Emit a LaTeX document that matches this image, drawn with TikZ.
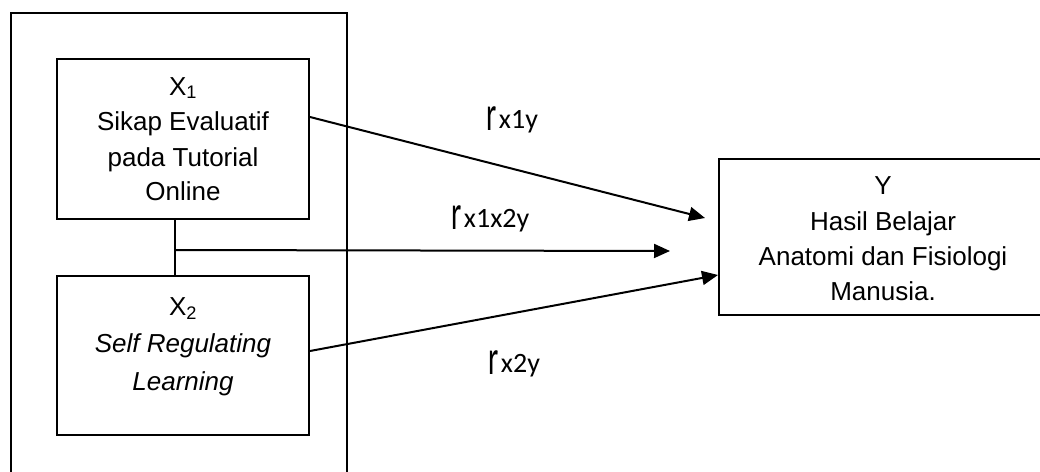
\documentclass[tikz,border=0pt]{standalone}
\usepackage{fontspec}
\setmainfont{Liberation Sans}
\newfontfamily\lblfont{Carlito}
\usetikzlibrary{arrows.meta}
\newcommand\rglyph{\raisebox{-2pt}{\scalebox{1.05}[1.75]{r}}\hspace{2.5pt}}
\begin{document}
\begin{tikzpicture}[x=1pt,y=-1pt,
  box/.style={draw, line width=2pt, inner sep=0pt},
  txt/.style={anchor=base, inner sep=0pt, font=\fontsize{26}{35}\selectfont},
  lbl/.style={anchor=base west, inner sep=0pt, font=\lblfont\fontsize{28}{32}\selectfont},
  conn/.style={line width=2pt},
  arr/.style={conn, -{Triangle[length=16pt,width=14pt]}}]
\clip (0,0) rectangle (1040,471);
\fill[white] (0,0) rectangle (1040,471);
% boxes
\node[box, minimum width=336pt, minimum height=480pt] (outer) at (179,253) {};
\node[box, minimum width=252pt, minimum height=160pt] (x1) at (183,139) {};
\node[box, minimum width=252pt, minimum height=159pt] (x2) at (183,355.5) {};
\node[box, minimum width=328pt, minimum height=156pt] (y) at (883,237) {};
% texts X1
\node[txt] (x1a) at (183,95) {X\textsubscript{1}};
\node[txt] (x1b) at (183,130) {Sikap Evaluatif};
\node[txt] (x1c) at (183,166) {pada Tutorial};
\node[txt] (x1d) at (183,200) {Online};
% texts X2
\node[txt] (x2a) at (183,315) {X\textsubscript{2}};
\node[txt] (x2b) at (183,352) {\itshape Self Regulating};
\node[txt] (x2c) at (183,390) {\itshape Learning};
% texts Y
\node[txt] (ya) at (883,194) {Y};
\node[txt] (yb) at (883,230) {Hasil Belajar};
\node[txt] (yc) at (883,265) {Anatomi dan Fisiologi};
\node[txt] (yd) at (883,300) {Manusia.};
% labels
\node[lbl] (l1) at (486,128) {\rglyph x1y};
\node[lbl] (l2) at (451,227) {\rglyph x1x2y};
\node[lbl] (l3) at (488,372) {\rglyph x2y};
% connectors
\coordinate (j) at (175,250);
\coordinate (e2) at (670,251);
\draw[conn] ([xshift=-8pt]x1.south) -- ([xshift=-8pt]x2.north);
\draw[arr] (j) -- (e2);
\draw[arr] ([yshift=22pt]x1.east) -- ([xshift=-13pt,yshift=19pt]y.west);
\draw[arr] ([yshift=4.5pt]x2.east) -- ([yshift=-38pt]y.west);
\end{tikzpicture}
\end{document}
